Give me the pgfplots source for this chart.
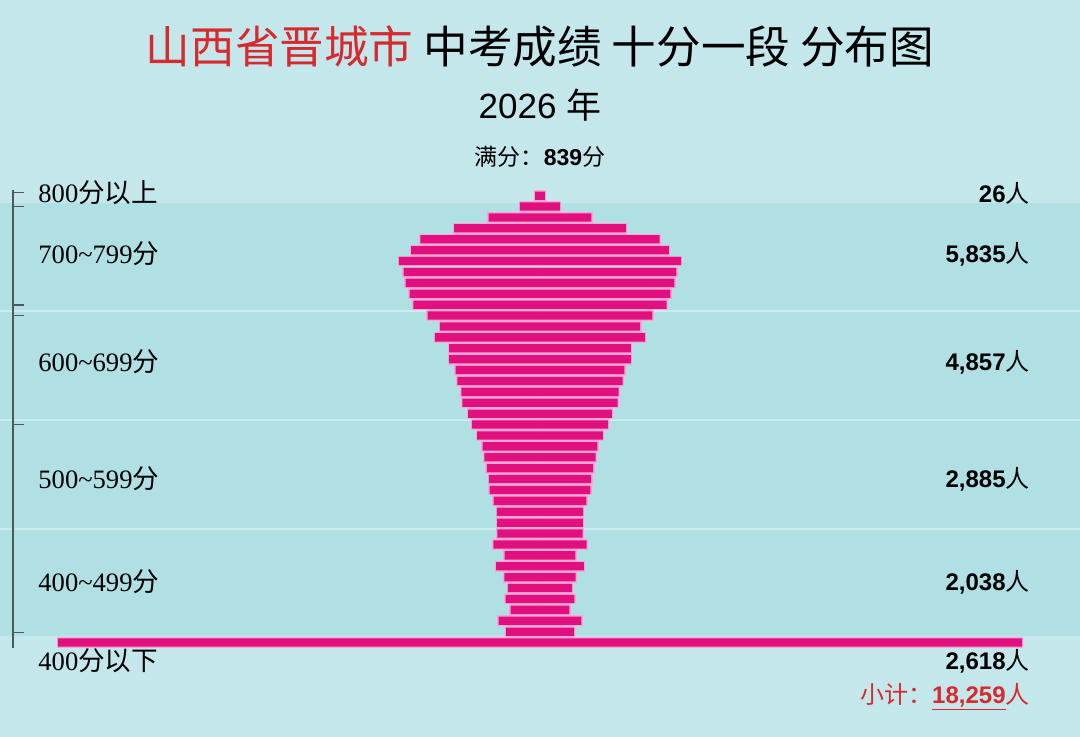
\documentclass[border=0pt]{standalone}
\usepackage{fontspec}
\setmainfont{Liberation Sans}
\newfontfamily\cjk{Noto Sans CJK SC}
\newfontfamily\serif{Liberation Serif}
\usepackage{pgfplots}
\usepackage{pgfplotstable}
\pgfplotsset{compat=1.18}

\definecolor{bgout}{HTML}{C4E7EB}
\definecolor{bgin}{HTML}{B0E0E4}
\definecolor{sepline}{HTML}{C8ECEF}
\definecolor{barmag}{HTML}{E2107E}
\definecolor{barpink}{HTML}{F5A8D8}
\definecolor{titlered}{HTML}{D62A2F}
\definecolor{axisgray}{HTML}{4A5A5E}

% score band (lower bound) and number of students
\pgfplotstableread{
s n
800 26
790 109
780 279
770 467
760 649
750 700
740 766
730 740
720 730
710 708
700 687
690 610
680 544
670 571
660 494
650 494
640 458
630 448
620 427
610 421
600 390
590 370
580 341
570 312
560 302
550 289
540 278
530 274
520 252
510 234
500 233
490 231
480 253
470 192
460 238
450 194
440 174
430 187
420 159
410 225
400 185
390 2618
}\scores

\begin{document}
\begin{tikzpicture}
\useasboundingbox (0,0) rectangle (540pt,368.5pt);
% background (1px = 0.5pt)
\fill[bgout] (0,0) rectangle (540pt,368.5pt);
\fill[bgin] (0,50.5pt) rectangle (540pt,267pt);
\foreach \yy in {213pt,158.5pt,104pt}
  \draw[sepline, line width=1pt] (0,\yy) -- (540pt,\yy);

% left scale line
\draw[axisgray, line width=0.7pt] (6.5pt,273.5pt) -- (6.5pt,44.5pt);
\foreach \yy in {272.2pt,265.2pt,216pt,210.7pt,156.4pt,52.4pt}
  \draw[axisgray, line width=0.6pt] (6.5pt,\yy) -- (12pt,\yy);

\begin{axis}[
    at={(0,0)}, anchor=south west,
    scale only axis,
    width=540pt, height=368.5pt,
    xmin=-1466, xmax=1466,
    ymin=303.4, ymax=979.5,
    hide axis,
    clip=false,
    every axis plot/.append style={xbar, bar width=7.6, bar shift=0pt},
]
% pink outline: both halves, stroked
\addplot[fill=barpink, draw=barpink, line width=1.3pt] table[x expr=-\thisrow{n}/2, y=s] {\scores};
\addplot[fill=barpink, draw=barpink, line width=1.3pt] table[x expr=\thisrow{n}/2, y=s] {\scores};
% magenta fill on top
\addplot[fill=barmag, draw=none] table[x expr=-\thisrow{n}/2, y=s] {\scores};
\addplot[fill=barmag, draw=none] table[x expr=\thisrow{n}/2, y=s] {\scores};
\end{axis}

% titles
\node at (270pt,345pt) {\fontsize{22.3}{25}\selectfont\cjk \textcolor{titlered}{山西省晋城市} 中考成绩 十分一段 分布图};
\node at (270pt,316pt) {\fontsize{17.5}{20}\selectfont 2026 {\cjk 年}};
\node at (270pt,290pt) {\fontsize{11.5}{13}\selectfont{\cjk 满分：}\textbf{839}{\cjk 分}};

% left labels
\foreach \yy/\lab in {272pt/{{\serif 800}{\cjk 分以上}},
                      241.5pt/{{\serif 700\char`~799}{\cjk 分}},
                      187.5pt/{{\serif 600\char`~699}{\cjk 分}},
                      129pt/{{\serif 500\char`~599}{\cjk 分}},
                      77.5pt/{{\serif 400\char`~499}{\cjk 分}},
                      38pt/{{\serif 400}{\cjk 分以下}}}
  \node[anchor=west, inner sep=0pt] at (19pt,\yy) {\fontsize{13.3}{15}\selectfont\lab};

% right labels
\foreach \yy/\lab in {272pt/26, 241.5pt/{5,835}, 187.5pt/{4,857},
                      129pt/{2,885}, 77.5pt/{2,038}, 38pt/{2,618}}
  \node[anchor=east, inner sep=0pt] at (515pt,\yy) {\fontsize{12}{14}\selectfont\textbf{\lab}{\cjk 人}};

\node[anchor=east, inner sep=0pt, text=titlered] at (515pt,20pt)
  {\fontsize{12}{14}\selectfont{\cjk 小计：}\underline{\textbf{18,259}}{\cjk 人}};
\end{tikzpicture}
\end{document}
